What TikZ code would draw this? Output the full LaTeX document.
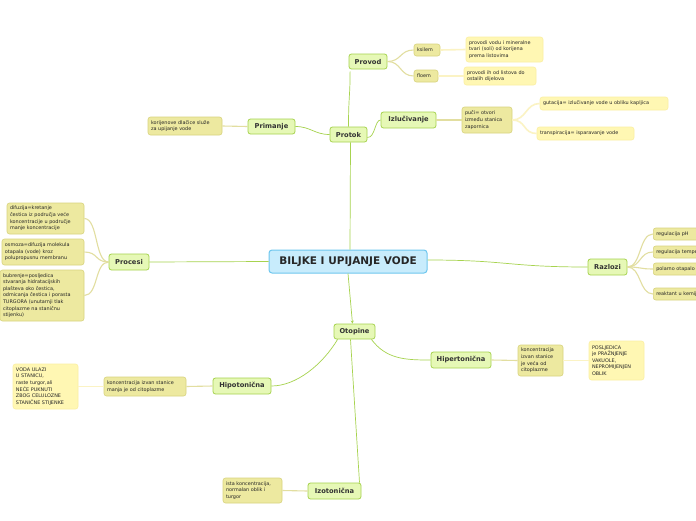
\documentclass[tikz,border=0pt]{standalone}
\usepackage{fontspec}
\setmainfont{DejaVu Sans}
\usetikzlibrary{arrows.meta}
\definecolor{rootfill}{HTML}{C8ECFC}
\definecolor{rootdraw}{HTML}{6EC7EE}
\definecolor{mainfill}{HTML}{E6F8B6}
\definecolor{maindraw}{HTML}{A7D34F}
\definecolor{subfill}{HTML}{EDE9A0}
\definecolor{subdraw}{HTML}{D8D37E}
\definecolor{leaffill}{HTML}{FFF7B3}
\definecolor{leafdraw}{HTML}{FBEFA2}
\definecolor{subline}{HTML}{E2DEA0}
\definecolor{leafline}{HTML}{FBF3C4}
\begin{document}
\begin{tikzpicture}[x=1pt,y=-1pt,
  rootbox/.style={draw=rootdraw,fill=rootfill,line width=1pt,rounded corners=3pt,inner sep=1pt,
    font=\bfseries\fontsize{10.5}{12}\selectfont,text=black!85},
  mainbox/.style={draw=maindraw,fill=mainfill,line width=0.8pt,rounded corners=2.5pt,inner sep=1pt,
    font=\bfseries\fontsize{6.7}{8}\selectfont,text=black!80},
  subbox/.style={draw=subdraw,fill=subfill,line width=0.6pt,rounded corners=2.5pt,inner xsep=3pt,inner ysep=1pt,align=left,
    font=\fontsize{4.9}{6.6}\selectfont,text=black!85},
  leafbox/.style={draw=leafdraw,fill=leaffill,line width=0.6pt,rounded corners=2.5pt,inner xsep=3pt,inner ysep=1pt,align=left,
    font=\fontsize{4.9}{6.6}\selectfont,text=black!85},
  mline/.style={draw=maindraw,line width=0.7pt},
  sline/.style={draw=subline,line width=1.1pt},
  lline/.style={draw=leafline,line width=1.6pt}]
\useasboundingbox (0,0) rectangle (696,520);
\clip (0,0) rectangle (696,520);
\fill[white] (0,0) rectangle (696,520);

% main nodes
\node[rootbox,minimum width=158,minimum height=23] (root) at (348,261.5) {BILJKE I UPIJANJE VODE};
\node[mainbox,minimum width=37,minimum height=15] (protok) at (348.5,134.5) {Protok};
\node[mainbox,minimum width=38,minimum height=15] (provod) at (368,61.5) {Provod};
\node[mainbox,minimum width=55,minimum height=16] (izluc) at (408.5,120) {Izlučivanje};
\node[mainbox,minimum width=47,minimum height=15] (primanje) at (271.5,126.5) {Primanje};
\node[mainbox,minimum width=40,minimum height=16] (procesi) at (129,262) {Procesi};
\node[mainbox,minimum width=39,minimum height=16] (razlozi) at (607.5,267) {Razlozi};
\node[mainbox,minimum width=41,minimum height=15] (otopine) at (354.5,331.5) {Otopine};
\node[mainbox,minimum width=60,minimum height=16] (hiper) at (461,360) {Hipertonična};
\node[mainbox,minimum width=58,minimum height=16] (hipo) at (242,386) {Hipotonična};
\node[mainbox,minimum width=53,minimum height=16] (izo) at (334.5,491) {Izotonična};

% sub nodes
\node[subbox,text width=20,minimum height=12] (ksilem) at (427,50) {ksilem};
\node[subbox,text width=18,minimum height=12] (floem) at (426,76) {floem};
\node[subbox,text width=44,minimum height=26] (puci) at (487,120) {puči= otvori\\između stanica\\zapornica};
\node[subbox,text width=68,minimum height=18] (korijen) at (185,126) {korijenove dlačice služe\\za upijanje vode};
\node[subbox,text width=71,minimum height=31] (difuzija) at (45.5,218.5) {difuzija=kretanje\\čestica iz područja veće\\koncentracije u područje\\manje koncentracije};
\node[subbox,text width=76,minimum height=26] (osmoza) at (43,252) {osmoza=difuzija molekula\\otapala (vode) kroz\\polupropusnu membranu};
\node[subbox,text width=78,minimum height=51] (bubrenje) at (42,295.5) {bubrenje=posljedica\\stvaranja hidratacijskih\\plašteva oko čestica,\\odmicanja čestica i porasta\\TURGORA (unutarnji tlak\\citoplazme na staničnu\\stijenku)};
\node[subbox,text width=39,minimum height=31] (konchiper) at (540.5,360.5) {koncentracija\\izvan stanice\\je veća od\\citoplazme};
\node[subbox,text width=76,minimum height=19] (konchipo) at (145,386.5) {koncentracija izvan stanice\\manja je od citoplazme};
\node[subbox,text width=53,minimum height=25] (ista) at (252.5,490.5) {ista koncentracija,\\normalan oblik i\\turgor};
\node[subbox,anchor=west,text width=150,minimum height=12] (r1) at (653,234) {regulacija pH};
\node[subbox,anchor=west,text width=150,minimum height=12] (r2) at (653,252) {regulacija temperature};
\node[subbox,anchor=west,text width=150,minimum height=12] (r3) at (653,269) {polarno otapalo};
\node[subbox,anchor=west,text width=150,minimum height=12] (r4) at (653,294) {reaktant u kemijskim reakcijama};

% leaf nodes
\node[leafbox,text width=71,minimum height=25] (ksilemtxt) at (504.5,49.5) {provodi vodu i mineralne\\tvari (soli) od korijena\\prema listovima};
\node[leafbox,text width=66,minimum height=18] (floemtxt) at (500,76) {provodi ih od listova do\\ostalih dijelova};
\node[leafbox,text width=122,minimum height=13] (gutacija) at (604,103.5) {gutacija= izlučivanje vode u obliku kapljica};
\node[leafbox,text width=91,minimum height=13] (transp) at (585.5,133.5) {transpiracija= isparavanje vode};
\node[leafbox,text width=49,minimum height=39] (posljedica) at (616.5,360.5) {POSLJEDICA\\je PRAŽNJENJE\\VAKUOLE,\\NEPROMIJENJEN\\OBLIK};
\node[leafbox,text width=59,minimum height=45] (voda) at (45.5,386.5) {VODA ULAZI\\U STANICU,\\raste turgor,ali\\NEĆE PUKNUTI\\ZBOG CELULOZNE\\STANIČNE STIJENKE};

% connectors from root
\draw[mline] ([xshift=2]root.north) -- ([xshift=2]protok.south);
\draw[mline] (root.west) .. controls +(-60,0) and +(60,0) .. (procesi.east);
\draw[mline] ([yshift=1.5]root.east) .. controls +(80,0) and +(-80,0) .. (razlozi.west);
\draw[mline,-{Stealth[length=3pt,width=3pt]}] (root.south) -- ([xshift=-2]otopine.north);

\draw[mline] (protok.north) .. controls +(0,-30) and +(0,25) .. ([xshift=1.5,yshift=-2]provod.south west);
\draw[mline] ([yshift=-3]protok.east) .. controls +(8,0) and +(-6,0) .. (izluc.west);
\draw[mline] (protok.west) .. controls +(-15,0) and +(15,0) .. (primanje.east);

\draw[mline] ([xshift=-4]otopine.south east) .. controls +(15,20) and +(-25,0) .. (hiper.west);
\draw[mline] ([xshift=4]otopine.south west) .. controls +(-15,25) and +(25,0) .. (hipo.east);
\draw[mline] ([xshift=-4]otopine.south) -- ([xshift=25]izo.north);

% sub connectors
\draw[sline] (provod.east) .. controls +(14,0) and +(-14,0) .. (ksilem.west);
\draw[sline] (provod.east) .. controls +(14,0) and +(-14,0) .. (floem.west);
\draw[sline] (izluc.east) -- (puci.west);
\draw[sline] (primanje.west) -- (korijen.east);
\draw[sline] (procesi.west) .. controls +(-14,0) and +(14,0) .. (difuzija.east);
\draw[sline] (procesi.west) .. controls +(-14,0) and +(14,0) .. (osmoza.east);
\draw[sline] (procesi.west) .. controls +(-14,0) and +(14,0) .. (bubrenje.east);
\draw[sline] (razlozi.east) .. controls +(14,0) and +(-14,0) .. (r1.west);
\draw[sline] (razlozi.east) .. controls +(14,0) and +(-14,0) .. (r2.west);
\draw[sline] (razlozi.east) .. controls +(14,0) and +(-14,0) .. (r3.west);
\draw[sline] (razlozi.east) .. controls +(14,0) and +(-14,0) .. (r4.west);
\draw[sline] (hiper.east) -- (konchiper.west);
\draw[sline] (hipo.west) -- (konchipo.east);
\draw[sline] (izo.west) -- (ista.east);

% leaf connectors
\draw[lline] (ksilem.east) -- (ksilemtxt.west);
\draw[lline] (floem.east) -- (floemtxt.west);
\draw[lline] (puci.east) .. controls +(14,0) and +(-14,0) .. (gutacija.west);
\draw[lline] (puci.east) .. controls +(14,0) and +(-14,0) .. (transp.west);
\draw[lline] (konchiper.east) -- (posljedica.west);
\draw[lline] (konchipo.west) -- (voda.east);
\end{tikzpicture}
\end{document}
